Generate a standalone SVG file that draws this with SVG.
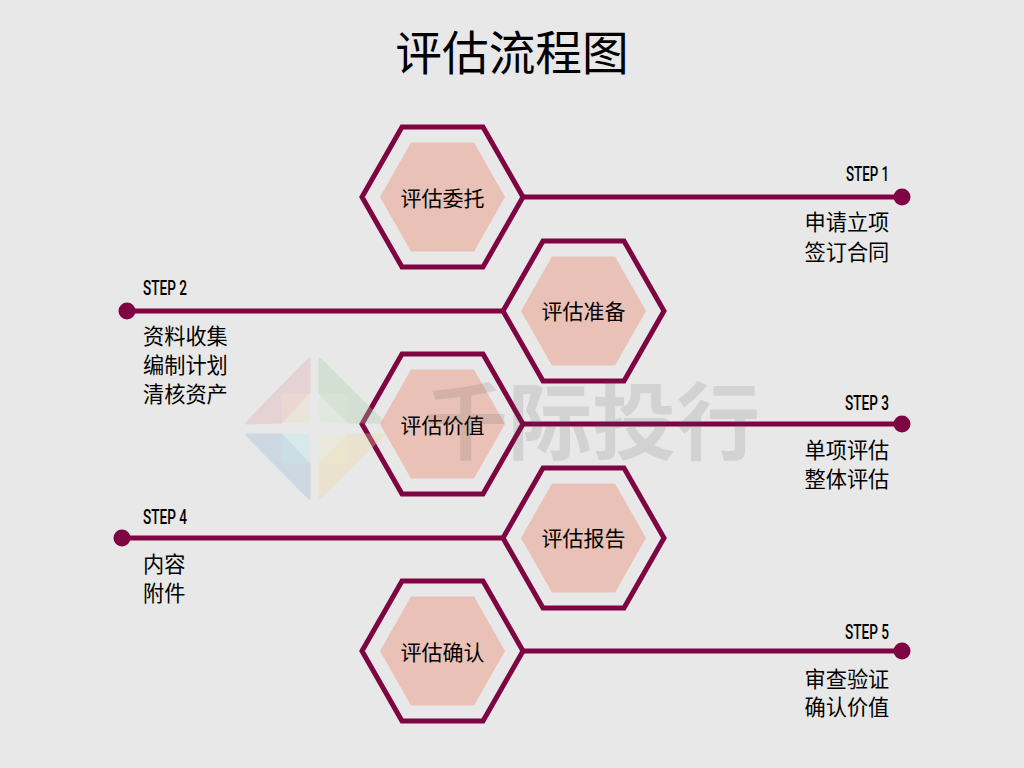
<svg xmlns="http://www.w3.org/2000/svg" width="1024" height="768" viewBox="0 0 1024 768">
<style>
text{font-family:"Noto Sans CJK SC","Noto Sans",sans-serif;fill:#000}
.title{font-size:46.670px;text-anchor:middle}
.lab{font-size:21px;text-anchor:middle}
.desc{font-size:21.200px}
.step{font-family:"Roboto","Liberation Sans",sans-serif;font-size:20px;font-weight:500;fill:#000}
.ln{stroke:#7f0442;stroke-width:5;fill:none}
.dot{fill:#7f0442}
.outer{fill:none;stroke:#7f0442;stroke-width:5}
.inner{fill:#e9c1b6}
.mark{stroke-linejoin:round;stroke-width:3}
</style>
<defs>
<g id="hex">
<polygon class="inner" points="-62.500,0 -31.500,-54.500 31.500,-54.500 62.500,0 31.500,54.500 -31.500,54.500"/>
<polygon class="outer" points="-80.500,0 -40.500,-70 40.500,-70 80.500,0 40.500,70 -40.500,70"/>
</g>
</defs>
<rect width="1024" height="768" fill="#e8e8e8"/>
<text class="title" x="512" y="70">评估流程图</text>
<g id="connectors">
<line class="ln" x1="521" y1="197" x2="902" y2="197"/><circle class="dot" cx="902" cy="197" r="8.500"/>
<line class="ln" x1="127" y1="311" x2="504" y2="311"/><circle class="dot" cx="127" cy="311" r="8.500"/>
<line class="ln" x1="521" y1="424" x2="902" y2="424"/><circle class="dot" cx="902" cy="424" r="8.500"/>
<line class="ln" x1="122" y1="538" x2="504" y2="538"/><circle class="dot" cx="122" cy="538" r="8.500"/>
<line class="ln" x1="521" y1="651" x2="902" y2="651"/><circle class="dot" cx="902" cy="651" r="8.500"/>
</g>
<g id="n1"><use href="#hex" x="442.500" y="197"/><text class="lab" x="442.500" y="206">评估委托</text></g>
<g id="n2"><use href="#hex" x="583.500" y="311"/><text class="lab" x="583.500" y="319">评估准备</text></g>
<g id="n3"><use href="#hex" x="442.500" y="424"/><text class="lab" x="442.500" y="433">评估价值</text></g>
<g id="n4"><use href="#hex" x="583.500" y="538"/><text class="lab" x="583.500" y="546">评估报告</text></g>
<g id="n5"><use href="#hex" x="442.500" y="651"/><text class="lab" x="442.500" y="660">评估确认</text></g>
<g id="s1"><text class="step" x="846" y="181" textLength="43" lengthAdjust="spacingAndGlyphs">STEP 1</text><text class="desc" x="804.500" y="230">申请立项</text><text class="desc" x="804.500" y="260">签订合同</text></g>
<g id="s2"><text class="step" x="143" y="295" textLength="44" lengthAdjust="spacingAndGlyphs">STEP 2</text><text class="desc" x="143" y="344">资料收集</text><text class="desc" x="143" y="373">编制计划</text><text class="desc" x="143" y="402">清核资产</text></g>
<g id="s3"><text class="step" x="845" y="410" textLength="44" lengthAdjust="spacingAndGlyphs">STEP 3</text><text class="desc" x="804.500" y="458">单项评估</text><text class="desc" x="804.500" y="487">整体评估</text></g>
<g id="s4"><text class="step" x="143" y="524" textLength="44" lengthAdjust="spacingAndGlyphs">STEP 4</text><text class="desc" x="143" y="572">内容</text><text class="desc" x="143" y="601">附件</text></g>
<g id="s5"><text class="step" x="845" y="639" textLength="44" lengthAdjust="spacingAndGlyphs">STEP 5</text><text class="desc" x="804.500" y="687">审查验证</text><text class="desc" x="804.500" y="715">确认价值</text></g>
<g id="watermark" opacity=".55">
<polygon class="mark" points="247,423 309,359 309,392 281,422" fill="#e0a8b0" stroke="#e0a8b0" opacity=".6"/>
<polygon class="mark" points="320,359 383,422 349,422 320,393" fill="#a8d0a8" stroke="#a8d0a8" opacity=".6"/>
<polygon class="mark" points="247,435 281,435 309,464 309,498" fill="#98b8dc" stroke="#98b8dc" opacity=".6"/>
<polygon class="mark" points="383,435 349,435 320,464 320,498" fill="#ecd8a0" stroke="#ecd8a0" opacity=".6"/>
<rect x="281" y="393" width="29" height="30" rx="5" fill="#f4d8b0" opacity=".4"/>
<rect x="319" y="393" width="29" height="30" rx="5" fill="#c8ecc0" opacity=".4"/>
<rect x="281" y="434" width="29" height="30" rx="5" fill="#a8ece8" opacity=".4"/>
<rect x="319" y="434" width="29" height="30" rx="5" fill="#f4ecb0" opacity=".4"/>
</g>
<text x="424" y="453" font-size="84" style="fill:#555;font-weight:700" opacity=".14">千际投行</text>
</svg>
